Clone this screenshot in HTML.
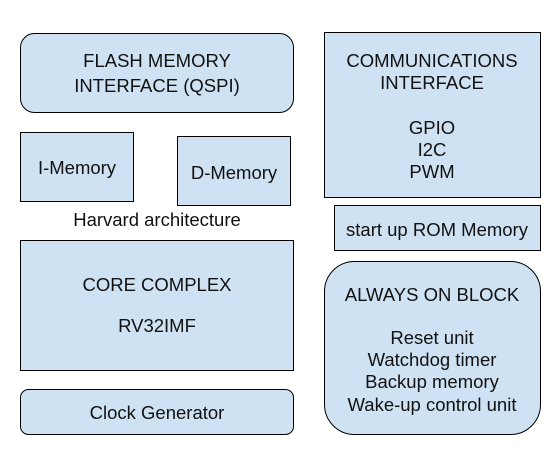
<!DOCTYPE html>
<html><head><meta charset="utf-8"><style>
html,body{margin:0;padding:0;background:#fff;}
svg{display:block;}
text{font-family:"Liberation Sans",Arial,sans-serif;font-size:18.5px;fill:#111;text-anchor:middle;}
</style></head><body>
<svg width="559" height="465" viewBox="0 0 559 465" xmlns="http://www.w3.org/2000/svg">
<g fill="#cfe2f3" stroke="#000" stroke-width="1">
<rect x="20.5" y="33.5" width="273" height="79" rx="14"/>
<rect x="20.5" y="132.5" width="113" height="69"/>
<rect x="177.5" y="136.5" width="113" height="69"/>
<rect x="20.5" y="240.5" width="273" height="130"/>
<rect x="20.5" y="389.5" width="273" height="45" rx="8"/>
<rect x="324.5" y="32.5" width="216" height="165"/>
<rect x="334.5" y="205.5" width="206" height="45"/>
<rect x="324.5" y="261.5" width="216" height="173" rx="30"/>
</g>
<text x="157" y="67">FLASH MEMORY</text>
<text x="157" y="92">INTERFACE (QSPI)</text>
<text x="77" y="174">I-Memory</text>
<text x="234" y="179">D-Memory</text>
<text x="157" y="226">Harvard architecture</text>
<text x="157" y="291">CORE COMPLEX</text>
<text x="157" y="332">RV32IMF</text>
<text x="157" y="419">Clock Generator</text>
<text x="432" y="67">COMMUNICATIONS</text>
<text x="432" y="89">INTERFACE</text>
<text x="432" y="134">GPIO</text>
<text x="432" y="156">I2C</text>
<text x="432" y="178">PWM</text>
<text x="437" y="236">start up ROM Memory</text>
<text x="432" y="301">ALWAYS ON BLOCK</text>
<text x="432" y="344">Reset unit</text>
<text x="432" y="366">Watchdog timer</text>
<text x="432" y="388">Backup memory</text>
<text x="432" y="411">Wake-up control unit</text>
</svg>
</body></html>
